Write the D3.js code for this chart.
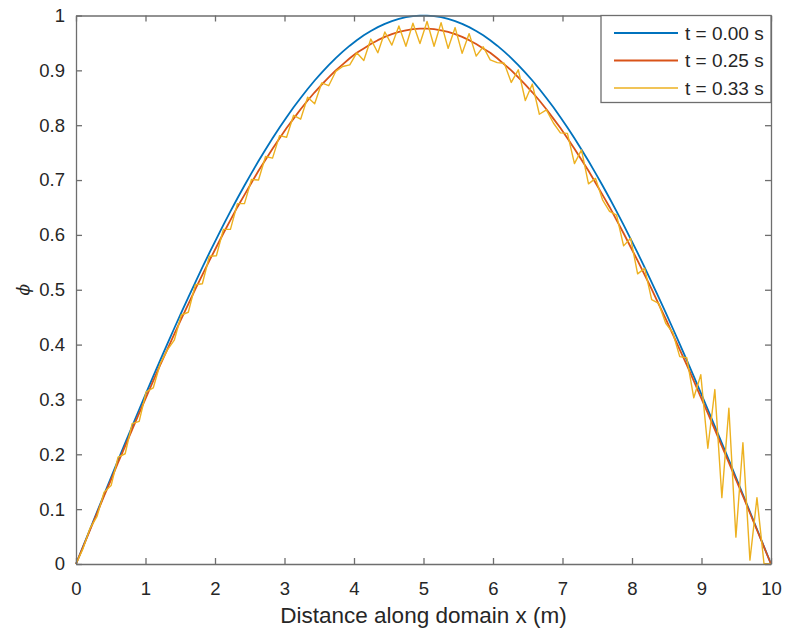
<!DOCTYPE html>
<html>
<head>
<meta charset="utf-8">
<script src="https://cdn.jsdelivr.net/npm/d3@7"></script>
<style>
  html, body { margin: 0; padding: 0; background: #fff; }
  svg { display: block; }
  text { font-family: "Liberation Sans", Arial, Helvetica, sans-serif; fill: #262626; }
</style>
</head>
<body>
<svg id="chart" width="786" height="634"></svg>
<script>
// ---- data ----
const xGrid = [0,0.101,0.202,0.303,0.404,0.505,0.606,0.707,0.808,0.909,
1.010,1.111,1.212,1.313,1.414,1.515,1.616,1.717,1.818,1.919,
2.020,2.121,2.222,2.323,2.424,2.525,2.626,2.727,2.828,2.929,
3.030,3.131,3.232,3.333,3.434,3.535,3.636,3.737,3.838,3.939,
4.040,4.141,4.242,4.343,4.444,4.545,4.646,4.747,4.848,4.949,
5.051,5.152,5.253,5.354,5.455,5.556,5.657,5.758,5.859,5.960,
6.061,6.162,6.263,6.364,6.465,6.566,6.667,6.768,6.869,6.970,
7.071,7.172,7.273,7.374,7.475,7.576,7.677,7.778,7.879,7.980,
8.081,8.182,8.283,8.384,8.485,8.586,8.687,8.788,8.889,8.990,
9.091,9.192,9.293,9.394,9.495,9.596,9.697,9.798,9.899,10];

const phiT000 = [0,0.0317,0.0634,0.0951,0.1266,0.1580,0.1893,0.2203,0.2511,0.2817,
0.3120,0.3420,0.3717,0.4009,0.4298,0.4582,0.4862,0.5136,0.5406,0.5671,
0.5929,0.6182,0.6428,0.6668,0.6901,0.7127,0.7346,0.7557,0.7761,0.7958,
0.8146,0.8326,0.8497,0.8660,0.8815,0.8960,0.9096,0.9224,0.9342,0.9450,
0.9549,0.9638,0.9718,0.9788,0.9848,0.9898,0.9938,0.9969,0.9989,0.9999,
0.9999,0.9989,0.9969,0.9938,0.9898,0.9848,0.9788,0.9718,0.9638,0.9549,
0.9450,0.9342,0.9224,0.9096,0.8960,0.8815,0.8660,0.8497,0.8326,0.8146,
0.7958,0.7761,0.7557,0.7346,0.7127,0.6901,0.6668,0.6428,0.6182,0.5929,
0.5671,0.5406,0.5136,0.4862,0.4582,0.4298,0.4009,0.3717,0.3420,0.3120,
0.2817,0.2511,0.2203,0.1893,0.1580,0.1266,0.0951,0.0634,0.0317,0];

const phiT025 = [0,0.031,0.062,0.093,0.124,0.154,0.185,0.215,0.245,0.275,
0.304,0.334,0.363,0.391,0.419,0.447,0.474,0.501,0.527,0.553,
0.578,0.603,0.627,0.651,0.673,0.695,0.717,0.737,0.757,0.776,
0.795,0.812,0.829,0.845,0.860,0.874,0.887,0.900,0.911,0.922,
0.932,0.940,0.948,0.955,0.961,0.966,0.970,0.973,0.975,0.976,
0.976,0.975,0.973,0.970,0.966,0.961,0.955,0.948,0.940,0.932,
0.922,0.911,0.900,0.887,0.874,0.860,0.845,0.829,0.812,0.795,
0.776,0.757,0.737,0.717,0.695,0.673,0.651,0.627,0.603,0.578,
0.553,0.527,0.501,0.474,0.447,0.419,0.391,0.363,0.334,0.304,
0.275,0.245,0.215,0.185,0.154,0.124,0.093,0.062,0.031,0];

const phiT033 = [0,0.028,0.065,0.087,0.131,0.143,0.195,0.201,0.256,0.260,
0.314,0.321,0.365,0.390,0.408,0.454,0.459,0.509,0.511,0.561,
0.562,0.610,0.610,0.657,0.657,0.701,0.700,0.743,0.740,0.781,
0.778,0.818,0.811,0.851,0.839,0.877,0.872,0.898,0.907,0.910,
0.932,0.918,0.957,0.932,0.970,0.946,0.981,0.944,0.986,0.949,
0.989,0.944,0.987,0.940,0.978,0.931,0.967,0.926,0.943,0.919,
0.914,0.913,0.878,0.901,0.845,0.875,0.820,0.828,0.804,0.786,
0.785,0.730,0.755,0.693,0.703,0.664,0.643,0.636,0.580,0.594,
0.529,0.539,0.482,0.475,0.439,0.422,0.378,0.376,0.303,0.345,
0.211,0.318,0.121,0.284,0.049,0.221,0.007,0.121,0.001,0];

const seriesNames = ["t = 0.00 s", "t = 0.25 s", "t = 0.33 s"];
const seriesColors = ["#0072BD", "#D95319", "#EDB120"];
const seriesWidths = [1.8, 1.8, 1.4];
const xTicks = [0,1,2,3,4,5,6,7,8,9,10];
const yTicks = [0,0.1,0.2,0.3,0.4,0.5,0.6,0.7,0.8,0.9,1];
const xLabel = "Distance along domain x (m)";
const yLabel = "\u03D5";

// ---- layout ----
const L = 76, R = 771, T = 15.5, B = 564;
const svg = d3.select("#chart");
const x = d3.scaleLinear().domain([0, 10]).range([L, R]);
const y = d3.scaleLinear().domain([0, 1]).range([B, T]);
const axisColor = "#6e6e6e";
const tickLen = 6;

const series = [phiT000, phiT025, phiT033];

// lines
const line = d3.line().x((d, i) => x(xGrid[i])).y(d => y(d));
const plot = svg.append("g");
series.forEach((s, i) => {
  plot.append("path")
    .datum(s)
    .attr("d", line)
    .attr("fill", "none")
    .attr("stroke", seriesColors[i])
    .attr("stroke-width", seriesWidths[i])
    .attr("stroke-linejoin", "round");
});

// axes (MATLAB-style box with inward ticks)
function styleAxis(g) {
  g.select(".domain").attr("stroke", axisColor).attr("stroke-width", 1.3);
  g.selectAll(".tick line").attr("stroke", axisColor).attr("stroke-width", 1.3);
  g.selectAll(".tick text").attr("fill", "#262626")
    .style("font-family", '"Liberation Sans", Arial, sans-serif')
    .style("font-size", "18.5px");
}
const fmtY = d => (d === 0 || d === 1) ? String(d) : d3.format(".1f")(d);

svg.append("g").attr("transform", `translate(0,${B})`)
  .call(d3.axisBottom(x).tickValues(xTicks).tickSize(-tickLen).tickPadding(18).tickSizeOuter(0))
  .call(styleAxis);
svg.append("g").attr("transform", `translate(0,${T})`)
  .call(d3.axisTop(x).tickValues(xTicks).tickSize(-tickLen).tickFormat("").tickSizeOuter(0))
  .call(styleAxis);
svg.append("g").attr("transform", `translate(${L},0)`)
  .call(d3.axisLeft(y).tickValues(yTicks).tickSize(-tickLen).tickPadding(11).tickFormat(fmtY).tickSizeOuter(0))
  .call(styleAxis);
svg.append("g").attr("transform", `translate(${R},0)`)
  .call(d3.axisRight(y).tickValues(yTicks).tickSize(-tickLen).tickFormat("").tickSizeOuter(0))
  .call(styleAxis);

// axis labels
svg.append("text")
  .attr("x", (L + R) / 2).attr("y", 623)
  .attr("text-anchor", "middle")
  .style("font-size", "22.5px")
  .text(xLabel);
svg.append("text")
  .attr("transform", `translate(29,${(T + B) / 2}) rotate(-90)`)
  .attr("text-anchor", "middle")
  .style("font-size", "17px")
  .style("font-style", "italic")
  .style("font-family", '"DejaVu Serif", serif')
  .text(yLabel);

// legend
const lg = svg.append("g");
const lgX = 601, lgY = T, lgW = R - 601, lgH = 87;
lg.append("rect").attr("x", lgX).attr("y", lgY).attr("width", lgW).attr("height", lgH)
  .attr("fill", "#fff").attr("stroke", axisColor).attr("stroke-width", 1.3);
seriesNames.forEach((name, i) => {
  const cy = 33 + i * 27.5;
  lg.append("line").attr("x1", 614).attr("x2", 678).attr("y1", cy).attr("y2", cy)
    .attr("stroke", seriesColors[i]).attr("stroke-width", seriesWidths[i]);
  lg.append("text").attr("x", 685).attr("y", cy).attr("dy", "0.35em")
    .style("font-size", "19px").text(name);
});
</script>
</body>
</html>
